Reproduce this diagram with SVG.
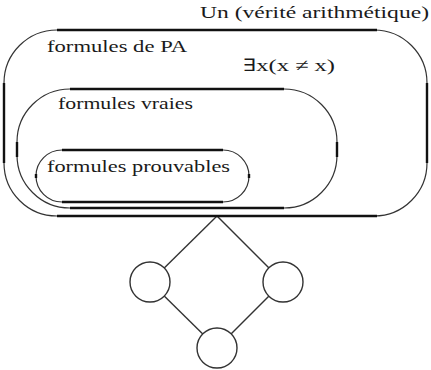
<svg xmlns="http://www.w3.org/2000/svg" width="431" height="370" viewBox="0 0 431 370">
<style>
text{font-family:'Liberation Serif','DejaVu Serif',serif;font-size:17px;fill:#1a1a1a}
.arc{fill:none;stroke:#333;stroke-width:1.2}
.bar{fill:none;stroke:#111;stroke-width:2.4}
.c{fill:#fff;stroke:#333;stroke-width:1.4}
.e{stroke:#333;stroke-width:1.4}
</style>
<rect width="431" height="370" fill="#fff"/>
<g id="connectors">
<line class="e" x1="217" y1="216" x2="150" y2="282"/>
<line class="e" x1="217" y1="216" x2="283" y2="282"/>
<line class="e" x1="150" y1="282" x2="217" y2="348"/>
<line class="e" x1="283" y1="282" x2="217" y2="348"/>
</g>
<g id="outer">
<rect class="arc" x="4" y="30" width="423" height="186" rx="53" ry="53"/>
<path class="bar" d="M57 30H377M57 216H377M4 83V163M427 83V163"/>
<text x="200" y="18" textLength="229" lengthAdjust="spacingAndGlyphs">Un (vérité arithmétique)</text>
<text x="47" y="52" textLength="140" lengthAdjust="spacingAndGlyphs">formules de PA</text>
<text x="243" y="71" textLength="92" lengthAdjust="spacingAndGlyphs">∃x(x ≠ x)</text>
</g>
<g id="vraies">
<rect class="arc" x="17" y="89" width="320" height="119" rx="53" ry="53"/>
<path class="bar" d="M70 89H284M70 208H284M17 142V157M337 142V157"/>
<text x="58" y="109" textLength="135" lengthAdjust="spacingAndGlyphs">formules vraies</text>
</g>
<g id="prouvables">
<rect class="arc" x="36" y="150" width="213" height="52" rx="26" ry="26"/>
<path class="bar" d="M62 150H223M62 202H223M36 174V178M249 174V178"/>
<text x="47" y="172" textLength="183" lengthAdjust="spacingAndGlyphs">formules prouvables</text>
</g>
<g id="n1"><circle class="c" cx="150" cy="282" r="20"/></g>
<g id="n2"><circle class="c" cx="283" cy="282" r="20"/></g>
<g id="n3"><circle class="c" cx="217" cy="348" r="20"/></g>
</svg>
